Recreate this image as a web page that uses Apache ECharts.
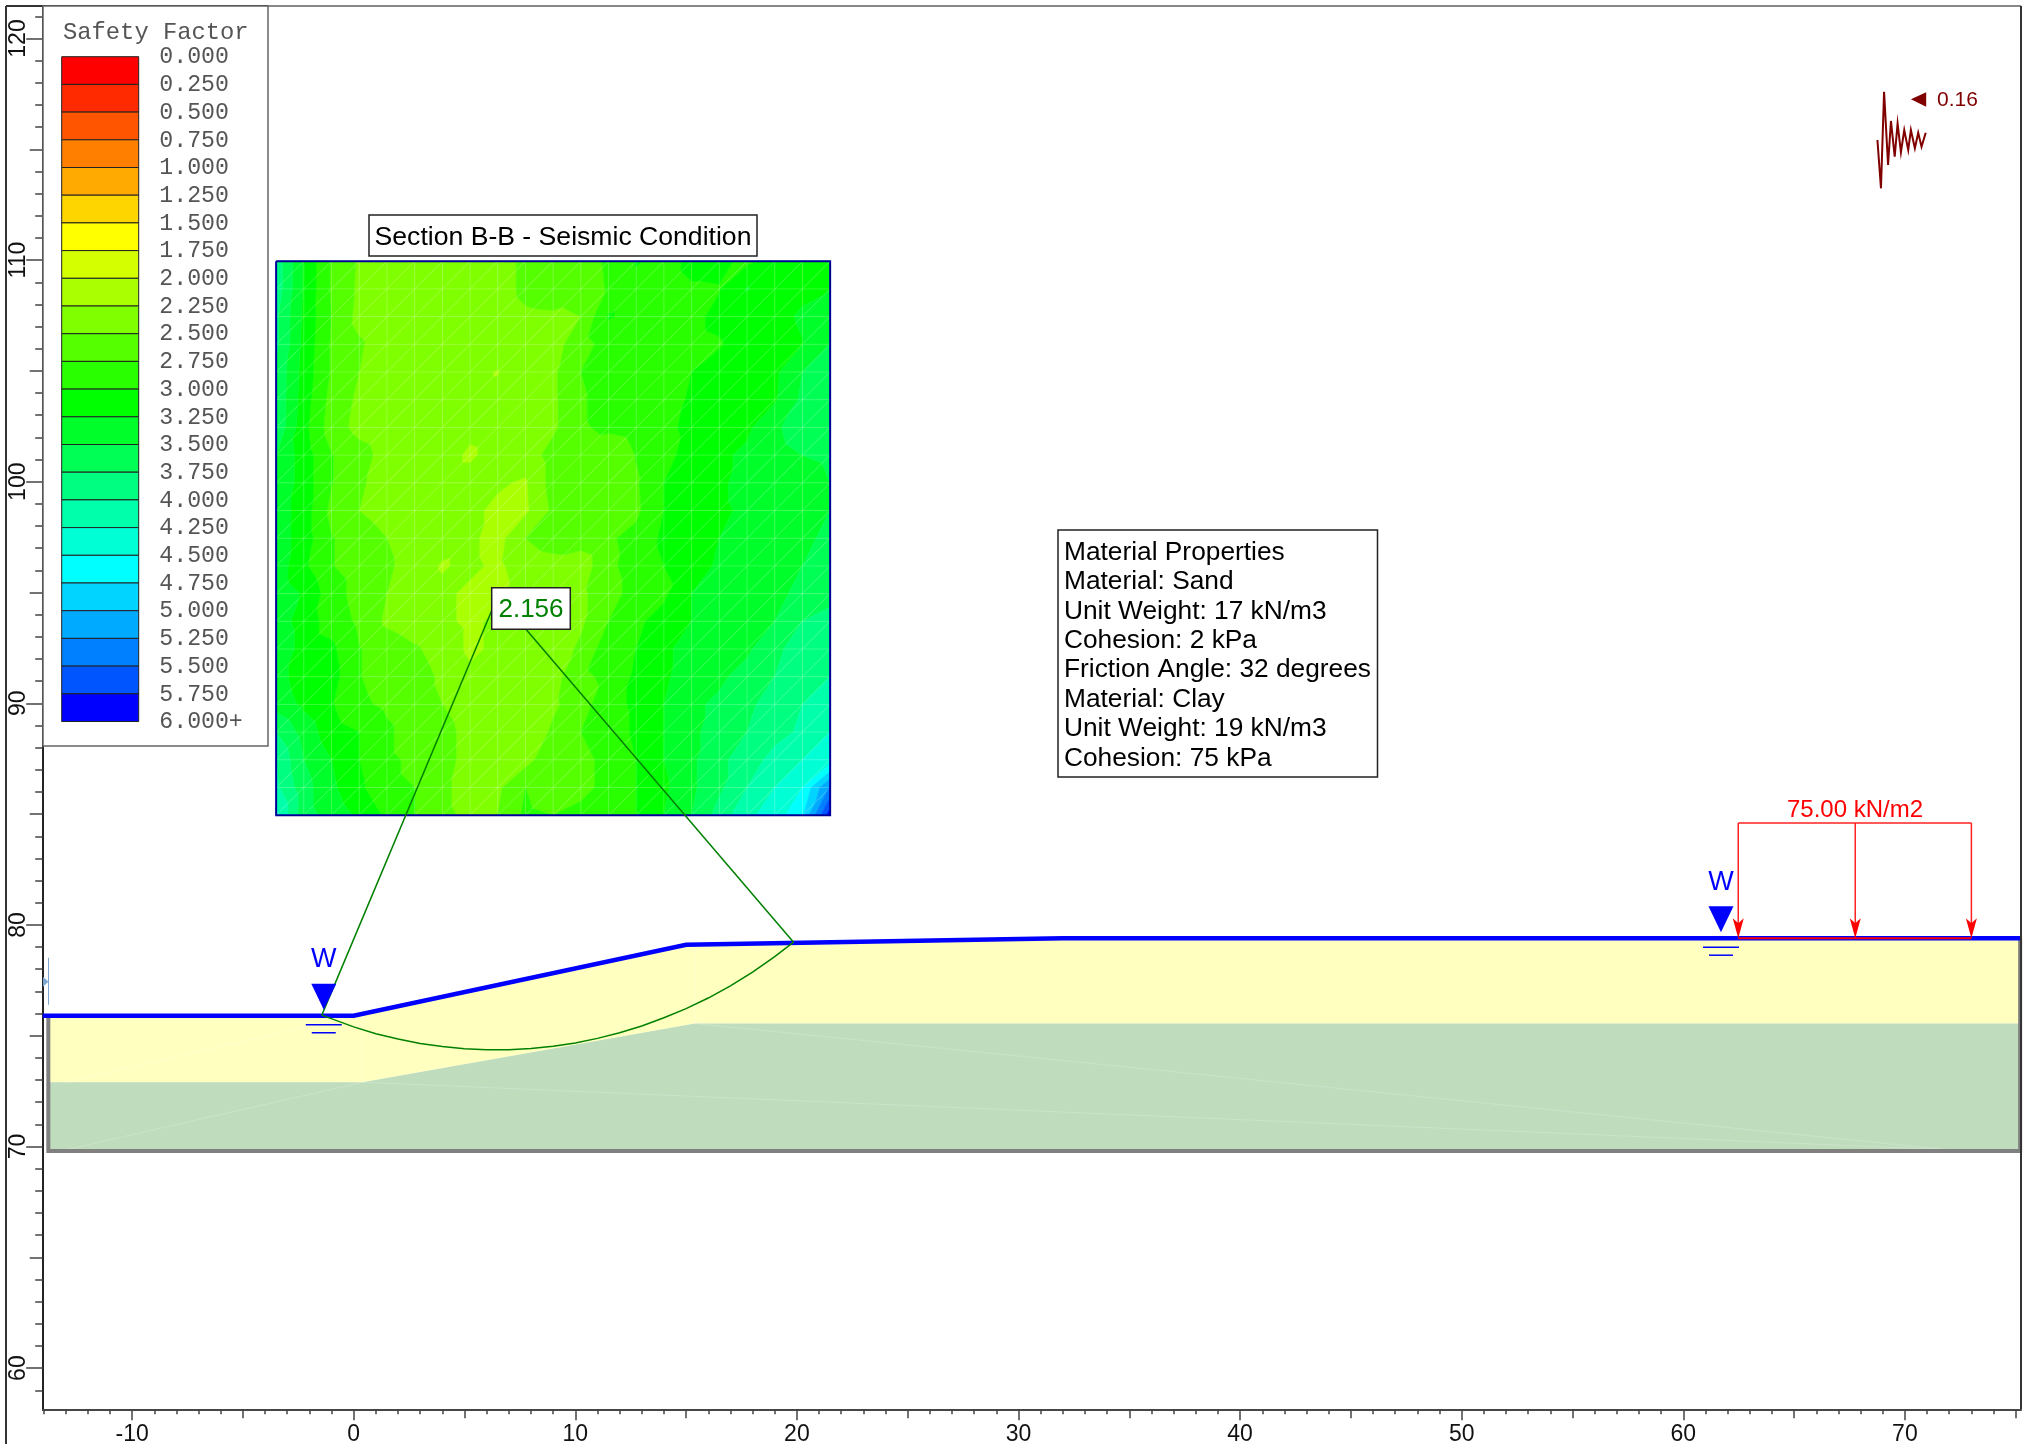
<!DOCTYPE html>
<html>
<head>
<meta charset="utf-8">
<title>Section B-B - Seismic Condition</title>
<script src="https://cdn.jsdelivr.net/npm/echarts@6/dist/echarts.min.js"></script>
<style>
html, body { margin: 0; padding: 0; background: #fff; }
#main { width: 2028px; height: 1444px; }
</style>
</head>
<body>
<div id="main"></div>
<script>
// axis ticks
var xMajor = [-10, 0, 10, 20, 30, 40, 50, 60, 70];
var xMid = [-10, -5, 0, 5, 10, 15, 20, 25, 30, 35, 40, 45, 50, 55, 60, 65, 70, 75];
var yMajor = [60, 70, 80, 90, 100, 110, 120];
var yMid = [60, 65, 70, 75, 80, 85, 90, 95, 100, 105, 110, 115, 120];

// legend
var legendLabels = ['0.000', '0.250', '0.500', '0.750', '1.000', '1.250', '1.500', '1.750', '2.000', '2.250', '2.500', '2.750',
    '3.000', '3.250', '3.500', '3.750', '4.000', '4.250', '4.500', '4.750', '5.000', '5.250', '5.500', '5.750', '6.000+'];
var legendColors = ['#ff0000', '#ff2a00', '#ff5500', '#ff8000', '#ffaa00', '#ffd500', '#ffff00', '#d4ff00', '#aaff00', '#80ff00', '#55ff00', '#2aff00',
    '#00ff00', '#00ff2a', '#00ff55', '#00ff80', '#00ffaa', '#00ffd5', '#00ffff', '#00d4ff', '#00aaff', '#0080ff', '#0055ff', '#0000ff'];
var bandStep = 0.25;

// safety factor at the search grid nodes, rows from top (y=110) to bottom (y=85)
var gridX = [-3.5, -2.25, -1, 0.25, 1.5, 2.75, 4, 5.25, 6.5, 7.75, 9, 10.25, 11.5, 12.75, 14, 15.25, 16.5, 17.75, 19, 20.25, 21.5];
var gridY = [109.95, 108.7, 107.45, 106.2, 104.95, 103.7, 102.45, 101.2, 99.95, 98.7, 97.45, 96.2, 94.95, 93.7, 92.45, 91.2, 89.95, 88.7, 87.45, 86.2, 84.95];
var fsRows = [
    [3.90,3.22,2.72,2.47,2.36,2.35,2.35,2.36,2.38,2.56,2.60,2.62,2.80,3.02,2.92,3.05,3.05,2.95,3.10,3.15,3.20],
    [3.90,3.22,2.72,2.45,2.36,2.35,2.34,2.35,2.38,2.56,2.60,2.56,2.78,2.92,2.92,2.98,2.99,3.26,3.15,3.20,3.24],
    [3.80,3.20,2.74,2.42,2.35,2.34,2.33,2.34,2.36,2.46,2.47,2.50,3.02,2.92,2.90,2.95,3.05,3.15,3.18,3.28,3.50],
    [3.80,3.18,2.72,2.53,2.36,2.33,2.33,2.33,2.35,2.42,2.40,2.65,2.85,2.90,2.90,2.95,2.98,3.10,3.15,3.24,3.50],
    [3.70,3.15,2.72,2.50,2.36,2.33,2.32,2.30,2.24,2.38,2.45,2.75,2.85,2.85,2.90,3.00,3.10,3.12,3.20,3.50,3.60],
    [3.70,3.12,2.66,2.45,2.35,2.33,2.32,2.30,2.30,2.36,2.45,2.72,2.85,2.85,2.90,3.03,3.10,3.15,3.22,3.55,3.70],
    [3.70,3.08,2.62,2.42,2.34,2.32,2.31,2.28,2.30,2.36,2.45,2.72,2.80,2.85,2.95,3.05,3.15,3.20,3.45,3.65,3.70],
    [3.50,3.12,2.76,2.60,2.40,2.33,2.30,2.23,2.30,2.36,2.60,2.62,2.56,2.76,2.92,3.10,3.20,3.30,3.40,3.50,3.52],
    [3.50,3.12,2.76,2.54,2.38,2.33,2.30,2.30,2.28,2.22,2.60,2.56,2.56,2.72,3.00,3.10,3.20,3.35,3.40,3.45,3.50],
    [3.40,3.12,2.68,2.50,2.36,2.33,2.30,2.30,2.20,2.20,2.55,2.60,2.60,2.70,3.00,3.10,3.20,3.30,3.40,3.45,3.50],
    [3.40,3.12,2.76,2.66,2.50,2.36,2.33,2.30,2.15,2.50,2.60,2.62,2.72,2.82,3.05,3.15,3.25,3.35,3.40,3.45,3.55],
    [3.40,3.05,2.76,2.65,2.55,2.36,2.23,2.30,2.20,2.38,2.42,2.35,2.70,2.85,3.00,3.10,3.30,3.35,3.40,3.50,3.60],
    [3.40,3.22,2.86,2.65,2.50,2.36,2.30,2.20,2.15,2.38,2.40,2.45,2.65,2.85,2.95,3.25,3.30,3.35,3.45,3.55,3.70],
    [3.40,3.12,2.90,2.70,2.45,2.35,2.30,2.20,2.30,2.30,2.40,2.45,2.75,2.95,3.10,3.25,3.30,3.35,3.50,3.75,3.80],
    [3.50,3.12,3.05,2.76,2.65,2.53,2.40,2.20,2.30,2.30,2.35,2.55,2.90,3.00,3.20,3.35,3.40,3.45,3.70,3.85,3.90],
    [3.35,3.12,3.10,2.76,2.65,2.60,2.46,2.30,2.35,2.35,2.40,2.70,2.80,3.05,3.20,3.40,3.45,3.60,3.75,3.90,4.00],
    [3.40,3.20,3.02,2.80,2.70,2.60,2.50,2.35,2.35,2.35,2.45,2.65,2.90,3.05,3.25,3.45,3.55,3.65,3.95,4.00,4.10],
    [3.75,3.40,3.10,3.00,2.80,2.60,2.60,2.40,2.35,2.27,2.55,2.75,2.85,3.05,3.25,3.45,3.60,3.75,3.90,4.05,4.25],
    [4.00,3.50,3.25,3.00,2.80,2.70,2.60,2.40,2.35,2.40,2.70,2.70,2.80,3.00,3.25,3.45,3.70,3.85,4.10,4.25,4.35],
    [4.05,3.60,3.30,3.05,2.80,2.75,2.55,2.40,2.45,2.75,2.60,2.70,2.80,3.00,3.20,3.45,3.70,4.00,4.25,4.50,5.30],
    [4.30,3.60,3.40,3.20,2.95,2.75,2.55,2.45,2.50,2.80,2.75,2.80,2.95,3.00,3.25,3.50,3.85,4.20,4.35,4.72,5.90]
];

// slope geometry
var surface = [[-14.03, 75.9], [0, 75.9], [15, 79.1], [32, 79.4], [75.24, 79.4]];
var sandArea = [[-13.8, 75.9], [0, 75.9], [15, 79.1], [32, 79.4], [75.2, 79.4], [75.2, 75.55], [15.4, 75.55], [0.4, 72.9], [-13.8, 72.9]];
var clayArea = [[-13.8, 72.9], [0.4, 72.9], [15.4, 75.55], [75.2, 75.55], [75.2, 69.8], [-13.8, 69.8]];
var boundary = [[-13.78, 75.9], [-13.78, 69.8], [75.2, 69.8], [75.2, 79.4]];
var faintLines = [
    [[-13, 69.85], [0.4, 72.9]], [[0.4, 72.9], [72, 69.85]], [[15.4, 75.55], [72, 69.85]],
    [[-13, 72.9], [0, 75.9]], [[0.4, 72.9], [0.4, 75.9]], [[15.4, 75.55], [15.4, 79.1]]
];
var waterMarks = [[-1.35, 75.9], [61.7, 79.4]];

// slip surface
var slipCentre = [6.5, 94.83];
var slipArc = [[-1.44, 75.93], [0, 75.40], [1, 75.09], [2, 74.85], [3, 74.65], [4, 74.51], [5, 74.41], [6, 74.37], [7, 74.37], [8, 74.42], [9, 74.52],
    [10, 74.67], [11, 74.88], [12, 75.13], [13, 75.44], [14, 75.81], [15, 76.22], [16, 76.70], [17, 77.25], [18, 77.87], [19, 78.57], [19.85, 79.22]];

// distributed load
var loadX = [62.48, 67.76, 73.0];
var loadTop = 84.6;
var loadBase = 79.4;

// seismic trace and arrow
var seismicTrace = [[68.76, 115.42], [68.92, 113.24], [69.06, 117.60], [69.24, 114.29], [69.37, 116.28], [69.54, 114.67], [69.67, 116.17], [69.82, 114.86],
    [69.97, 115.87], [70.15, 114.97], [70.27, 115.87], [70.45, 115.05], [70.60, 115.75], [70.75, 115.12], [70.94, 115.75]];
var seismicArrow = [[70.96, 117.57], [70.27, 117.26], [70.96, 116.92]];

var materialLines = ['Material Properties', 'Material: Sand', 'Unit Weight: 17 kN/m3', 'Cohesion: 2 kPa', 'Friction Angle: 32 degrees',
    'Material: Clay', 'Unit Weight: 19 kN/m3', 'Cohesion: 75 kPa'];

var xMin = -14.034, xMax = 75.239, yMin = 58.141, yMax = 121.467;
var sansFont = '"Liberation Sans", Arial, sans-serif';
var monoFont = '"Liberation Mono", "Courier New", monospace';
var tickColor = '#444';

function intRange(a, b) {
    var r = [];
    for (var i = a; i <= b; i++) r.push(i);
    return r;
}

function xAxisOf(ticks, len, labels) {
    return {
        type: 'value', position: 'bottom', min: xMin, max: xMax, splitLine: { show: false },
        axisLine: { onZero: false, lineStyle: { color: tickColor, width: 1.5 } },
        axisTick: { customValues: ticks, length: len, lineStyle: { color: tickColor, width: 1.5 } },
        axisLabel: labels ? { customValues: labels, color: '#111', fontFamily: sansFont, fontSize: 23, margin: 14, formatter: '{value}' } : { show: false }
    };
}

function yAxisOf(ticks, len, labels) {
    return {
        type: 'value', position: 'left', min: yMin, max: yMax, splitLine: { show: false },
        axisLine: { onZero: false, lineStyle: { color: '#222', width: 1.5 } },
        axisTick: { customValues: ticks, length: len, lineStyle: { color: tickColor, width: 1.5 } },
        axisLabel: labels ? { customValues: labels, color: '#111', fontFamily: sansFont, fontSize: 23, margin: 13, rotate: 90, formatter: '{value}' } : { show: false }
    };
}

// part of triangle tri (points [x,y,v]) where v is on the keep side of limit
function clipTri(poly, limit, keepAbove) {
    var out = [];
    for (var i = 0; i < poly.length; i++) {
        var a = poly[i], b = poly[(i + 1) % poly.length];
        var aIn = keepAbove ? a[2] >= limit : a[2] <= limit;
        var bIn = keepAbove ? b[2] >= limit : b[2] <= limit;
        if (aIn) out.push(a);
        if (aIn != bIn) {
            var t = (limit - a[2]) / (b[2] - a[2]);
            out.push([a[0] + (b[0] - a[0]) * t, a[1] + (b[1] - a[1]) * t, limit]);
        }
    }
    return out;
}

var triangles = [];
for (var j = 0; j < gridY.length - 1; j++) {
    for (var i = 0; i < gridX.length - 1; i++) {
        var tl = [gridX[i], gridY[j], fsRows[j][i]];
        var tr = [gridX[i + 1], gridY[j], fsRows[j][i + 1]];
        var bl = [gridX[i], gridY[j + 1], fsRows[j + 1][i]];
        var br = [gridX[i + 1], gridY[j + 1], fsRows[j + 1][i + 1]];
        triangles.push([tl, tr, bl]);
        triangles.push([tr, br, bl]);
    }
}

function renderContour(params, api) {
    var tri = triangles[params.dataIndex];
    var children = [];
    for (var b = 0; b < legendColors.length; b++) {
        var lo = b * bandStep, hi = (b + 1) * bandStep;
        if (b == legendColors.length - 1) hi = 99;
        var poly = clipTri(clipTri(tri, lo, true), hi, false);
        if (poly.length < 3) continue;
        children.push({
            type: 'polygon',
            shape: { points: poly.map(function (p) { return api.coord([p[0], p[1]]); }) },
            style: { fill: legendColors[b], stroke: legendColors[b], lineWidth: 0.6 }
        });
    }
    return { type: 'group', children: children };
}

var meshSegments = [];
gridX.forEach(function (x) { meshSegments.push([[x, gridY[0]], [x, gridY[gridY.length - 1]]]); });
gridY.forEach(function (y) { meshSegments.push([[gridX[0], y], [gridX[gridX.length - 1], y]]); });
for (var d = 1; d < gridX.length * 2 - 2; d++) {
    // diagonals running from lower left to upper right
    var a0 = Math.max(0, d - (gridX.length - 1)), b0 = Math.min(d, gridX.length - 1);
    meshSegments.push([[gridX[a0], gridY[b0]], [gridX[b0], gridY[a0]]]);
}

function segmentSeries(list, color, width, z) {
    return {
        type: 'custom', z: z, silent: true, data: list.map(function (s, i) { return [i]; }),
        renderItem: function (params, api) {
            var s = list[params.dataIndex];
            var p = api.coord(s[0]), q = api.coord(s[1]);
            return { type: 'line', shape: { x1: p[0], y1: p[1], x2: q[0], y2: q[1] }, style: { stroke: color, lineWidth: width, fill: null } };
        }
    };
}

function polygonSeries(points, color, z) {
    return {
        type: 'custom', z: z, silent: true, data: [[0]],
        renderItem: function (params, api) {
            return { type: 'polygon', shape: { points: points.map(function (p) { return api.coord(p); }) }, style: { fill: color } };
        }
    };
}

function lineSeries(points, color, width, z) {
    return {
        type: 'line', data: points, z: z, silent: true, symbol: 'none', clip: false,
        lineStyle: { color: color, width: width, join: 'miter' }
    };
}

function renderWater(params, api) {
    var m = waterMarks[params.dataIndex];
    var p = api.coord(m), x = p[0], y = p[1];
    var blue = { stroke: '#0000ff', lineWidth: 1.5 };
    return {
        type: 'group',
        children: [
            { type: 'polygon', shape: { points: [[x - 12.5, y - 32], [x + 12.5, y - 32], [x, y - 6]] }, style: { fill: '#0000ff' } },
            { type: 'line', shape: { x1: x - 18, y1: y + 9, x2: x + 18, y2: y + 9 }, style: blue },
            { type: 'line', shape: { x1: x - 12, y1: y + 17, x2: x + 12, y2: y + 17 }, style: blue },
            { type: 'text', x: x, y: y - 56, style: { text: 'W', fill: '#0000ff', font: '27px ' + sansFont, align: 'center', verticalAlign: 'middle' } }
        ]
    };
}

function renderLoadArrow(params, api) {
    var x = loadX[params.dataIndex];
    var top = api.coord([x, loadTop]), tip = api.coord([x, loadBase]);
    return {
        type: 'group',
        children: [
            { type: 'line', shape: { x1: top[0], y1: top[1], x2: tip[0], y2: tip[1] - 10 }, style: { stroke: '#ff2020', lineWidth: 1.5 } },
            { type: 'polygon', shape: { points: [[tip[0], tip[1]], [tip[0] - 5.5, tip[1] - 20], [tip[0], tip[1] - 15], [tip[0] + 5.5, tip[1] - 20]] }, style: { fill: '#ff0000' } }
        ]
    };
}

function renderMarkLeft(params, api) {
    var p = api.coord([-13.78, 75.9]);
    var c = '#7ba6d0';
    return {
        type: 'group',
        children: [
            { type: 'line', shape: { x1: 48.5, y1: p[1] - 58, x2: 48.5, y2: p[1] - 11 }, style: { stroke: c, lineWidth: 1 } },
            { type: 'polygon', shape: { points: [[43, p[1] - 39], [48.5, p[1] - 34], [43, p[1] - 29]] }, style: { fill: c } }
        ]
    };
}

function boxEl(x, y, w, h, stroke) {
    return { type: 'rect', z: 100, shape: { x: x, y: y, width: w, height: h }, style: { fill: '#fff', stroke: stroke || '#222', lineWidth: 1.5 } };
}
function textEl(text, x, y, size, color, font, align) {
    return {
        type: 'text', z: 101, x: x, y: y,
        style: { text: text, fill: color, font: size + 'px ' + (font || sansFont), align: align || 'left', verticalAlign: 'middle' }
    };
}
function frameLine(x1, y1, x2, y2, color, width) {
    return { type: 'line', z: 99, shape: { x1: x1, y1: y1, x2: x2, y2: y2 }, style: { stroke: color, lineWidth: width } };
}

var graphics = [
    frameLine(6, 6, 6, 1444, '#333', 2),
    frameLine(6, 6, 268, 6, '#333', 2),
    frameLine(268, 6, 2021, 6, '#888', 2),
    frameLine(2021, 6, 2021, 1409, '#333', 2)
];

// legend
graphics.push(boxEl(43, 6, 225, 740, '#666'));
graphics.push(textEl('Safety Factor', 63, 33, 23.8, '#555', monoFont));
legendColors.forEach(function (c, i) {
    graphics.push({
        type: 'rect', z: 101, shape: { x: 61.7, y: 56.7 + i * 27.7, width: 77, height: 27.7 },
        style: { fill: c, stroke: '#222', lineWidth: 1 }
    });
});
legendLabels.forEach(function (t, i) {
    graphics.push(textEl(t, 159.3, 57.3 + i * 27.7, 23.2, '#555', monoFont));
});

// boxes
graphics.push(boxEl(369, 215, 388, 41));
graphics.push(textEl('Section B-B - Seismic Condition', 563, 237.2, 26.6, '#000', sansFont, 'center'));
graphics.push(boxEl(491.7, 587.7, 78.6, 41.6));
graphics.push(textEl('2.156', 531, 609.6, 26, '#008000', sansFont, 'center'));
graphics.push(boxEl(1058, 530, 319.5, 247));
materialLines.forEach(function (t, i) {
    graphics.push(textEl(t, 1064, 552.4 + i * 29.45, 26.3, '#000'));
});
graphics.push(textEl('75.00 kN/m2', 1855, 810, 24, '#ff0000', sansFont, 'center'));
graphics.push(textEl('0.16', 1937, 100.5, 21, '#800000'));

var option = {
    animation: false,
    backgroundColor: '#fff',
    grid: { left: 42.7, top: 6, right: 7, bottom: 34.7, containLabel: false, outerBoundsMode: 'none' },
    xAxis: [xAxisOf(intRange(-14, 75), 5), xAxisOf(xMid, 9), xAxisOf(xMajor, 11, xMajor)],
    yAxis: [yAxisOf(intRange(59, 121), 7.5), yAxisOf(yMid, 13), yAxisOf(yMajor, 16.5, yMajor)],
    graphic: { elements: graphics },
    series: [
        polygonSeries(sandArea, '#ffffc0', 2),
        polygonSeries(clayArea, '#bfdcbd', 2),
        segmentSeries(faintLines, 'rgba(255,255,255,0.2)', 1, 3),
        lineSeries(boundary, '#808080', 4, 4),
        lineSeries(surface, '#0000ff', 4.5, 5),
        {
            type: 'custom', z: 6, silent: true, progressive: 0,
            data: triangles.map(function (t, i) { return [i]; }),
            renderItem: renderContour
        },
        segmentSeries(meshSegments, 'rgba(255,255,255,0.2)', 1, 7),
        lineSeries([[gridX[0], gridY[0]], [gridX[20], gridY[0]], [gridX[20], gridY[20]], [gridX[0], gridY[20]], [gridX[0], gridY[0]]], '#000099', 2, 8),
        lineSeries(slipArc, '#008000', 1.5, 9),
        segmentSeries([[slipArc[0], slipCentre], [slipArc[slipArc.length - 1], slipCentre]], '#008000', 1.5, 9),
        { type: 'custom', z: 10, silent: true, data: waterMarks, renderItem: renderWater },
        lineSeries([[loadX[0], loadBase], [loadX[2], loadBase]], '#ff0000', 2, 10),
        lineSeries([[loadX[0], loadTop], [loadX[2], loadTop]], '#ff2020', 1.5, 10),
        {
            type: 'custom', z: 10, silent: true,
            data: loadX.map(function (x) { return [x, loadBase]; }),
            renderItem: renderLoadArrow
        },
        lineSeries(seismicTrace, '#800000', 2, 10),
        polygonSeries(seismicArrow, '#800000', 10),
        { type: 'custom', z: 10, silent: true, data: [[0]], renderItem: renderMarkLeft }
    ]
};

var chart = echarts.init(document.getElementById('main'));
chart.setOption(option);
</script>
</body>
</html>
